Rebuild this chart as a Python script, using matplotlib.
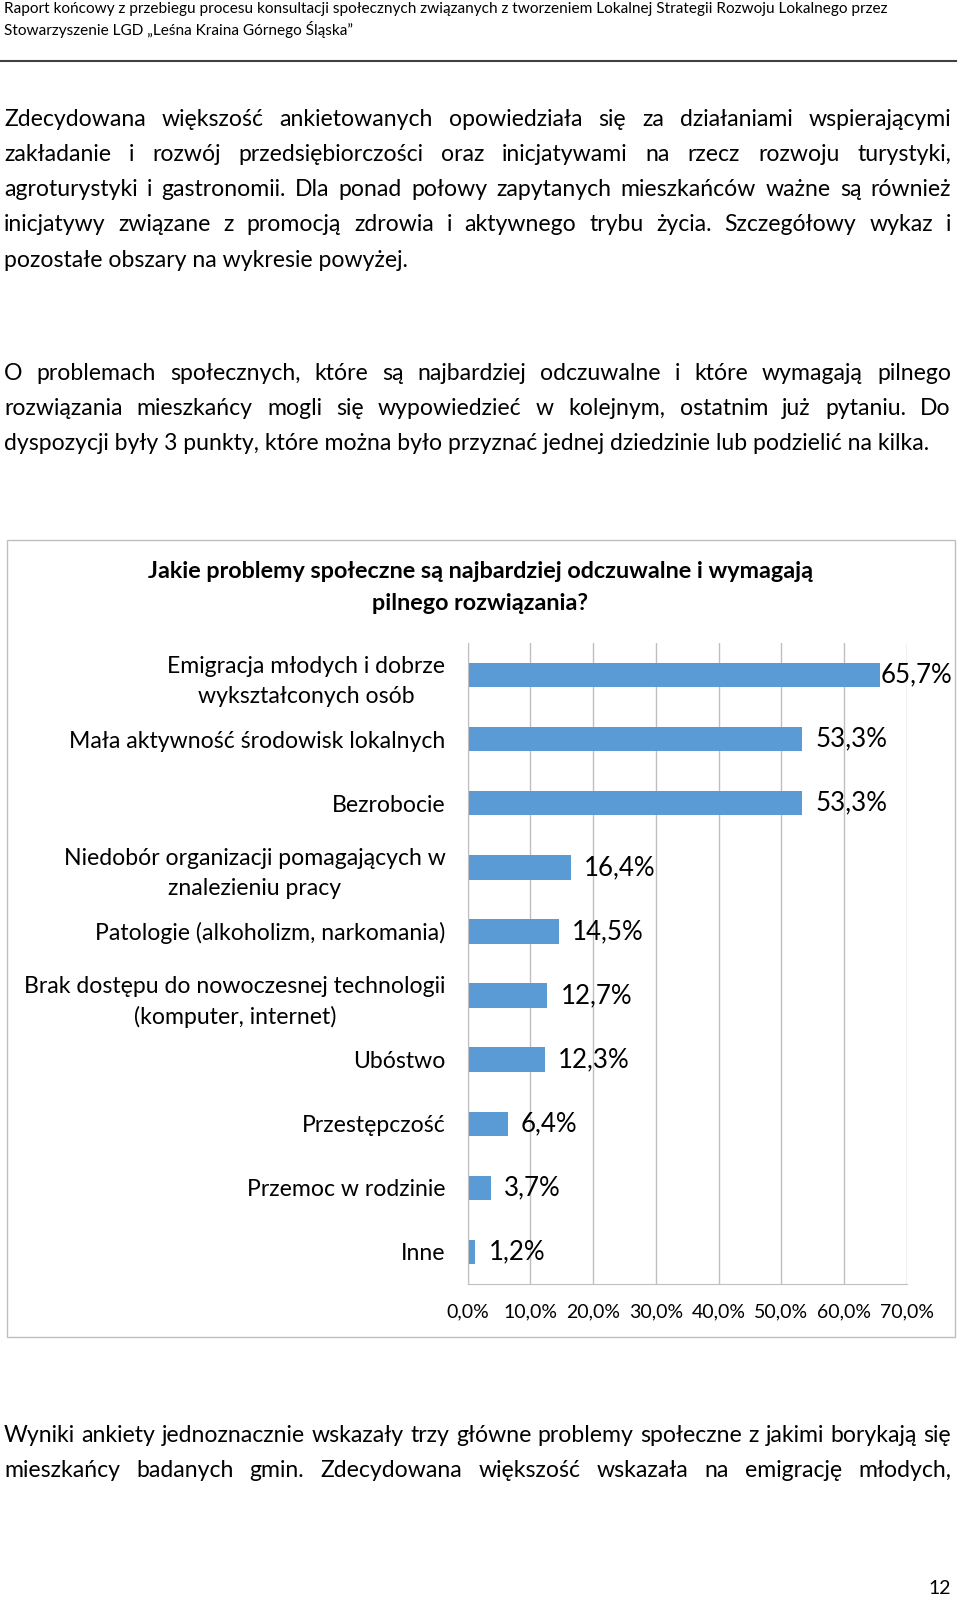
import matplotlib
matplotlib.use("Agg")
import matplotlib.pyplot as plt
from matplotlib.patches import Rectangle
from matplotlib.lines import Line2D

plt.rcParams['font.family'] = ['Lato', 'DejaVu Sans']

# page text
header = ["Raport końcowy z przebiegu procesu konsultacji społecznych związanych z tworzeniem Lokalnej Strategii Rozwoju Lokalnego przez",
          "Stowarzyszenie LGD „Leśna Kraina Górnego Śląska”"]
para1 = ["Zdecydowana większość ankietowanych opowiedziała się za działaniami wspierającymi",
         "zakładanie i rozwój przedsiębiorczości oraz inicjatywami na rzecz rozwoju turystyki,",
         "agroturystyki i gastronomii. Dla ponad połowy zapytanych mieszkańców ważne są również",
         "inicjatywy związane z promocją zdrowia i aktywnego trybu życia. Szczegółowy wykaz i",
         "pozostałe obszary na wykresie powyżej."]
para2 = ["O problemach społecznych, które są najbardziej odczuwalne i które wymagają pilnego",
         "rozwiązania mieszkańcy mogli się wypowiedzieć w kolejnym, ostatnim już pytaniu. Do",
         "dyspozycji były 3 punkty, które można było przyznać jednej dziedzinie lub podzielić na kilka."]
para3 = ["Wyniki ankiety jednoznacznie wskazały trzy główne problemy społeczne z jakimi borykają się",
         "mieszkańcy badanych gmin. Zdecydowana większość wskazała na emigrację młodych,"]
page_no = "12"

# chart data
title_lines = ["Jakie problemy społeczne są najbardziej odczuwalne i wymagają",
               "pilnego rozwiązania?"]
categories = ["Emigracja młodych i dobrze\nwykształconych osób",
              "Mała aktywność środowisk lokalnych",
              "Bezrobocie",
              "Niedobór organizacji pomagających w\nznalezieniu pracy",
              "Patologie (alkoholizm, narkomania)",
              "Brak dostępu do nowoczesnej technologii\n(komputer, internet)",
              "Ubóstwo",
              "Przestępczość",
              "Przemoc w rodzinie",
              "Inne"]
values = [65.7, 53.3, 53.3, 16.4, 14.5, 12.7, 12.3, 6.4, 3.7, 1.2]
xticks = [0, 10, 20, 30, 40, 50, 60, 70]
xtick_labels = ["0,0%", "10,0%", "20,0%", "30,0%", "40,0%", "50,0%", "60,0%", "70,0%"]

W, H = 960, 1599
fig = plt.figure(figsize=(W / 100, H / 100), dpi=100)
renderer = fig.canvas.get_renderer()


def text_width(s, size, weight='normal'):
    t = fig.text(0, 0, s, fontsize=size, fontweight=weight)
    w = t.get_window_extent(renderer).width
    t.remove()
    return w


def fit_size(s, target, weight='normal'):
    return 20 * target / text_width(s, 20, weight)


def put_line(s, x0, y, size, x1=None, weight='normal', ha='left'):
    if x1 is None:
        fig.text(x0 / W, 1 - y / H, s, fontsize=size, fontweight=weight,
                 ha=ha, va='center')
        return
    # justified line: spread the words between x0 and x1
    words = s.split(' ')
    widths = [text_width(w, size, weight) for w in words]
    gap = (x1 - x0 - sum(widths)) / (len(words) - 1)
    x = x0
    for w, wd in zip(words, widths):
        fig.text(x / W, 1 - y / H, w, fontsize=size, fontweight=weight,
                 ha='left', va='center')
        x += wd + gap


# header
hs = fit_size(header[0], 884)
put_line(header[0], 4, 9, hs)
put_line(header[1], 4, 29, hs)
fig.add_artist(Line2D([0, 956 / W], [1 - 61 / H] * 2, color='#404040', lw=1.5))

# body text, same size everywhere
bs = fit_size(para2[-1], 928)
for i, ln in enumerate(para1):
    y = 119 + i * 35.3
    put_line(ln, 4, y, bs, None if i == len(para1) - 1 else 951)

for i, ln in enumerate(para2):
    y = 373 + i * 35.3
    put_line(ln, 4, y, bs, None if i == len(para2) - 1 else 951)

for i, ln in enumerate(para3):
    put_line(ln, 4, 1435 + i * 35.3, bs, 951)

put_line(page_no, 951, 1589, 14, ha='right')

# chart frame and title
fig.add_artist(Rectangle((7 / W, 1 - 1337 / H), 948 / W, 797 / H,
                         transform=fig.transFigure, fill=False,
                         edgecolor='#BFBFBF', lw=1))
ts = fit_size(title_lines[0], 665, 'bold')
put_line(title_lines[0], 480, 572, ts, weight='bold', ha='center')
put_line(title_lines[1], 480, 603, ts, weight='bold', ha='center')

# bar chart
ax = fig.add_axes([467.7 / W, 1 - 1284 / H, 439 / W, 641 / H])
pos = list(range(len(categories)))
ax.barh(pos, values, height=0.38, color='#5B9BD5', zorder=2)
ax.set_xlim(0, 70)
ax.set_ylim(len(categories) - 0.5, -0.5)
ax.set_xticks(xticks, xtick_labels)
ax.set_yticks(pos, categories)
ax.grid(axis='x', color='#BFBFBF', lw=1, zorder=0)
ax.set_axisbelow(True)
for side in ['top', 'right']:
    ax.spines[side].set_visible(False)
for side in ['left', 'bottom']:
    ax.spines[side].set_color('#BFBFBF')

cs = fit_size(categories[1], 376)
ax.tick_params(axis='y', length=0, pad=16, labelsize=cs)
ax.tick_params(axis='x', length=0, pad=14, labelsize=fit_size("10,0%", 54))
for t in ax.get_yticklabels():
    t.set_multialignment('center')
    t.set_linespacing(1.5)

vs = fit_size("53,3%", 71.5)
for i, v in enumerate(values):
    off = 1 if v > 60 else 9.5
    ax.annotate(f"{v:.1f}".replace('.', ',') + '%', (v, i), xytext=(off, 0),
                textcoords='offset points', va='center', ha='left', fontsize=vs,
                annotation_clip=False)

fig.savefig('out.png', dpi=100)
